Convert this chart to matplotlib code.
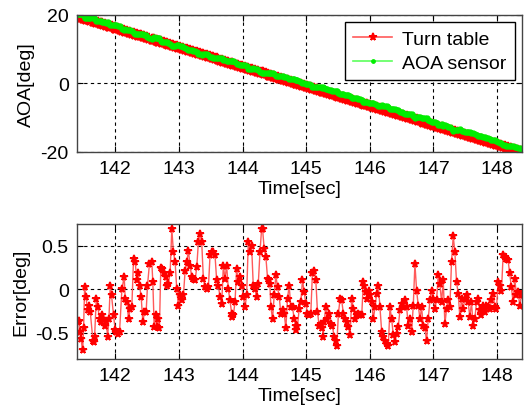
import numpy as np
import matplotlib
matplotlib.use("Agg")
import matplotlib.pyplot as plt

plt.rcParams['font.family'] = ['Liberation Sans', 'DejaVu Sans']

# Sample times [sec] and error values [deg]
time_s = [
    141.409, 141.425, 141.441, 141.462, 141.488, 141.503, 141.519, 141.540, 141.566, 141.582,
    141.608, 141.650, 141.660, 141.676, 141.702, 141.728, 141.754, 141.780, 141.791, 141.807,
    141.833, 141.859, 141.880, 141.901, 141.922, 141.942, 141.974, 142.000, 142.016, 142.037,
    142.068, 142.105, 142.141, 142.157, 142.183, 142.209, 142.235, 142.261, 142.288, 142.314,
    142.340, 142.361, 142.382, 142.408, 142.434, 142.460, 142.486, 142.507, 142.538, 142.575,
    142.591, 142.612, 142.643, 142.653, 142.674, 142.695, 142.716, 142.742, 142.768, 142.795,
    142.810, 142.836, 142.863, 142.889, 142.915, 142.941, 142.967, 142.993, 143.019, 143.045,
    143.072, 143.098, 143.124, 143.150, 143.176, 143.202, 143.228, 143.255, 143.281, 143.307,
    143.333, 143.359, 143.385, 143.411, 143.438, 143.464, 143.490, 143.516, 143.542, 143.568,
    143.594, 143.620, 143.647, 143.673, 143.699, 143.725, 143.751, 143.777, 143.803, 143.830,
    143.840, 143.856, 143.882, 143.908, 143.934, 143.960, 143.986, 144.013, 144.039, 144.065,
    144.091, 144.117, 144.143, 144.169, 144.196, 144.222, 144.248, 144.274, 144.300,
    144.315, 144.341, 144.367, 144.394, 144.420, 144.430, 144.446, 144.472, 144.498, 144.524,
    144.550, 144.577, 144.603, 144.629, 144.655, 144.681, 144.707, 144.733, 144.760, 144.786,
    144.812, 144.838, 144.848, 144.864, 144.890, 144.916, 144.942, 144.969, 144.995, 145.021,
    145.047, 145.073, 145.099, 145.125, 145.152, 145.178, 145.204, 145.230, 145.256, 145.267,
    145.282, 145.308, 145.335, 145.361, 145.387, 145.413, 145.439, 145.465, 145.481, 145.507,
    145.533, 145.559, 145.585, 145.612, 145.638, 145.664, 145.690, 145.716, 145.742, 145.768,
    145.795, 145.821, 145.847, 145.873, 145.899, 145.915, 145.936, 145.962, 145.988, 146.009,
    146.030, 146.056, 146.082, 146.108, 146.134, 146.160, 146.187, 146.213, 146.239, 146.265,
    146.291, 146.317, 146.343, 146.370, 146.396, 146.422, 146.448, 146.474, 146.500, 146.526,
    146.553, 146.579, 146.605, 146.631, 146.657, 146.683, 146.709, 146.736, 146.762, 146.788,
    146.814, 146.840, 146.866, 146.892, 146.918, 146.945, 146.971, 146.997, 147.023, 147.049,
    147.075, 147.101, 147.128, 147.154, 147.180, 147.206, 147.232, 147.258, 147.284, 147.311,
    147.337, 147.363, 147.389, 147.415, 147.441, 147.467, 147.494, 147.520, 147.546, 147.572,
    147.598, 147.624, 147.650, 147.677, 147.703, 147.729, 147.755, 147.781, 147.807, 147.833,
    147.859, 147.886, 147.912, 147.938, 147.964, 147.990, 148.016, 148.042, 148.069, 148.095,
    148.121, 148.147, 148.173, 148.199, 148.225, 148.252, 148.278, 148.304, 148.330, 148.356,
    148.382, 148.408,
]
error_deg = [
    -0.38, -0.36, -0.49, -0.57, -0.70, -0.45, 0.02, -0.09, -0.24, -0.19,
    -0.26, -0.59, -0.61, -0.55, -0.11, -0.21, -0.34, -0.38, -0.30, -0.34,
    -0.42, -0.36, -0.55, -0.34, 0.04, -0.07, -0.30, -0.47, -0.49, -0.51,
    -0.49, 0.00, 0.14, -0.11, -0.15, -0.34, -0.23, -0.21, 0.35, 0.31,
    0.10, 0.19, 0.04, -0.09, -0.38, -0.26, -0.26, 0.04, 0.29, 0.31,
    0.08, -0.43, -0.30, -0.43, -0.34, -0.45, 0.24, 0.23, 0.19, 0.14,
    0.04, 0.06, 0.19, 0.69, 0.42, 0.31, 0.00, -0.19, -0.07, -0.13,
    -0.07, 0.21, 0.31, 0.44, 0.27, 0.14, 0.12, 0.10, 0.25, 0.54,
    0.63, 0.54, 0.12, 0.02, 0.00, 0.02, 0.39, 0.42, 0.42, 0.39,
    0.10, 0.04, -0.09, -0.17, 0.27, 0.12, 0.27, 0.00, -0.13, -0.28,
    -0.32, -0.30, -0.15, 0.23, 0.08, 0.14, 0.04, -0.09, -0.21, -0.07,
    0.54, 0.42, 0.50, 0.04, 0.00, -0.09, 0.06, 0.42, 0.69,
    0.69, 0.46, 0.37, 0.12, 0.10, 0.06, -0.21, -0.34, -0.07, 0.16,
    0.02, -0.09, -0.28, -0.24, -0.28, -0.45, -0.11, 0.04, -0.21, -0.21,
    -0.34, -0.42, -0.47, -0.42, -0.23, -0.15, 0.10, -0.03, -0.17, -0.28,
    -0.30, -0.28, 0.19, 0.21, 0.10, -0.26, -0.42, -0.40, -0.45, -0.55,
    -0.38, -0.21, -0.34, -0.28, -0.40, -0.42, -0.55, -0.59, -0.65, -0.28,
    -0.11, -0.13, -0.28, -0.34, -0.38, -0.43, -0.53, -0.11, -0.23, -0.34,
    -0.30, -0.28, -0.30, -0.30, 0.08, 0.04, -0.03, -0.11, -0.02, -0.07,
    -0.15, -0.34, -0.21, -0.05, 0.04, -0.21, -0.49, -0.55, -0.59, -0.63,
    -0.65, -0.21, -0.34, -0.53, -0.61, -0.51, -0.43, -0.24, -0.17, -0.21,
    -0.13, -0.21, -0.42, -0.34, -0.49, -0.19, 0.29, -0.02, -0.19, -0.34,
    -0.21, -0.42, -0.45, -0.59, -0.34, -0.13, -0.02, -0.11, -0.23, -0.13,
    0.16, 0.06, -0.15, 0.10, -0.40, -0.23, -0.13, -0.21, 0.31, 0.61,
    0.42, 0.08, -0.05, -0.32, -0.11, -0.23, -0.11, -0.07, -0.15, -0.32,
    -0.15, -0.42, -0.34, -0.15, -0.11, -0.24, -0.30, -0.19, -0.26, -0.19,
    -0.21, -0.23, -0.13, -0.05, -0.21, -0.23, 0.08, 0.04, -0.02, 0.39,
    0.37, 0.35, 0.33, 0.18, 0.02, -0.15, 0.12, -0.07, -0.03, -0.19,
    -0.07, -0.07,
]

# Ramp end points (time, angle)
ramp_time = [141.409, 148.408]
turn_ramp_angle = [19.4, -20.3]
aoa_ramp_angle = [19.9, -19.3]

t = np.array(time_s)
err = np.array(error_deg)
turn_table = np.interp(t, ramp_time, turn_ramp_angle)
aoa_sensor = np.interp(t, ramp_time, aoa_ramp_angle) - err

xlim = (141.4, 148.39)
xticks = [142, 143, 144, 145, 146, 147, 148]

fig = plt.figure(figsize=(5.24, 4.10), dpi=100)
ax1 = fig.add_axes([0.147, 0.627, 0.849, 0.334])
ax2 = fig.add_axes([0.147, 0.122, 0.849, 0.330])

red_line = '#ff5a5a'
green_line = '#5cff5c'

ax1.plot(t, turn_table, color=red_line, lw=1.2, marker='*', ms=8,
         mfc='#ff0000', mec='#ff0000', mew=1.3, label='Turn table')
ax1.plot(t, aoa_sensor, color=green_line, lw=1.2, marker='.', ms=7,
         mfc='#00ee00', mec='#00ee00', label='AOA sensor')

ax2.plot(t, err, color=red_line, lw=1.0, marker='*', ms=5.5,
         mfc='#ff0000', mec='#ff0000', mew=1.3)

for ax in (ax1, ax2):
    ax.set_xlim(*xlim)
    ax.set_xticks(xticks)
    ax.grid(True, color='black', linestyle=(0, (3, 3)), linewidth=0.8)
    ax.tick_params(direction='in', length=4, top=True, right=True,
                   labelsize=14, pad=6, colors='black')
    for s in ax.spines.values():
        s.set_color('#444444')
        s.set_linewidth(1.0)
    ax.set_xlabel('Time[sec]', fontsize=14, labelpad=2)

ax1.set_ylim(-20, 20)
ax1.set_yticks([-20, 0, 20])
ax1.set_yticklabels(['-20', '0', '20'])
ax1.set_ylabel('AOA[deg]', fontsize=14, labelpad=4)

ax2.set_ylim(-0.8, 0.75)
ax2.set_yticks([-0.5, 0, 0.5])
ax2.set_yticklabels(['-0.5', '0', '0.5'])
ax2.set_ylabel('Error[deg]', fontsize=14, labelpad=4)

leg = ax1.legend(loc='upper right', fontsize=14, frameon=True, fancybox=False,
                 edgecolor='black', framealpha=1, borderpad=0.45, numpoints=1,
                 handlelength=2.0, handletextpad=0.5, labelspacing=0.3,
                 borderaxespad=0.35, markerscale=0.7)
leg.get_frame().set_linewidth(1.0)

fig.savefig('out.png', dpi=100)
